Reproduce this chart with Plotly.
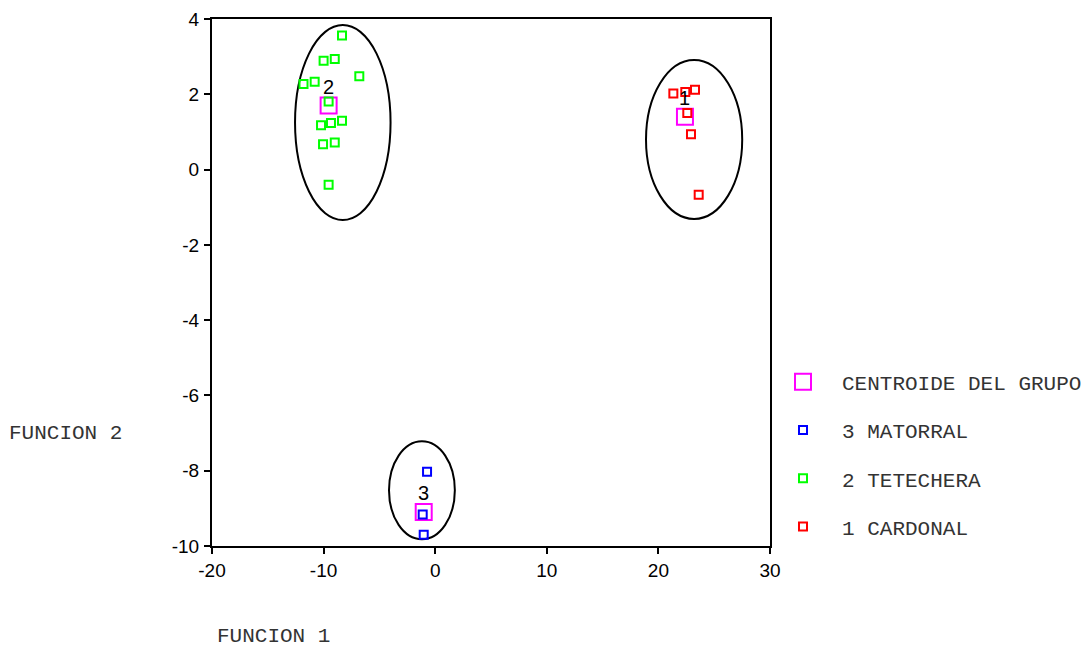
import plotly.graph_objects as go

# ---- data ----
cardonal_x = [21.34, 22.41, 23.28, 22.59, 22.92, 23.61]
cardonal_y = [2.02, 2.06, 2.12, 1.50, 0.94, -0.67]

tetechera_x = [-8.35, -10.0, -9.0, -6.8, -11.8, -10.8, -9.55, -10.23, -9.34, -8.35, -10.05, -9.0, -9.55]
tetechera_y = [3.56, 2.89, 2.94, 2.48, 2.27, 2.33, 1.81, 1.18, 1.24, 1.30, 0.67, 0.72, -0.40]

matorral_x = [-0.73, -1.12, -1.03]
matorral_y = [-8.03, -9.16, -9.70]

centroid_x = [22.38, -9.55, -1.03]
centroid_y = [1.40, 1.70, -9.10]
centroid_labels = ["1", "2", "3"]

# ellipse centres and semi-axes (data units)
ellipse_cx = [23.20, -8.28, -1.19]
ellipse_cy = [0.80, 1.25, -8.52]
ellipse_ax = [4.31, 4.28, 2.95]
ellipse_ay = [2.11, 2.59, 1.30]

x_ticks = [-20, -10, 0, 10, 20, 30]
x_tick_text = ["-20", "-10", "0", "10", "20", "30"]
y_ticks = [4, 2, 0, -2, -4, -6, -8, -10]
y_tick_text = ["4", "2", "0", "-2", "-4", "-6", "-8", "-10"]

MONO = "Liberation Mono, Courier New, monospace"
SANS = "Liberation Sans, Arial, sans-serif"

fig = go.Figure()

fig.add_trace(go.Scatter(
    x=centroid_x, y=centroid_y, mode="markers", name="CENTROIDE DEL GRUPO",
    marker=dict(symbol="square-open", size=16, color="#ff00ff", line=dict(width=2)),
    legendrank=1, legendgroup="c"))
fig.add_trace(go.Scatter(
    x=matorral_x, y=matorral_y, mode="markers", name="3 MATORRAL",
    marker=dict(symbol="square-open", size=8, color="#0000ff", line=dict(width=2)),
    legendrank=2, legendgroup="m"))
fig.add_trace(go.Scatter(
    x=tetechera_x, y=tetechera_y, mode="markers", name="2 TETECHERA",
    marker=dict(symbol="square-open", size=8, color="#00ff00", line=dict(width=2)),
    legendrank=3, legendgroup="t"))
fig.add_trace(go.Scatter(
    x=cardonal_x, y=cardonal_y, mode="markers", name="1 CARDONAL",
    marker=dict(symbol="square-open", size=8, color="#ff0000", line=dict(width=2)),
    legendrank=4, legendgroup="k"))

for cx, cy, ax, ay in zip(ellipse_cx, ellipse_cy, ellipse_ax, ellipse_ay):
    fig.add_shape(type="circle", xref="x", yref="y",
                  x0=cx - ax, x1=cx + ax, y0=cy - ay, y1=cy + ay,
                  line=dict(color="black", width=2), layer="below")

for cx, cy, lab in zip(centroid_x, centroid_y, centroid_labels):
    fig.add_annotation(x=cx, y=cy, text=lab, showarrow=False, yshift=19,
                       font=dict(family=SANS, size=20, color="black"))

fig.add_annotation(xref="paper", yref="paper", x=-0.3666, y=0.188, xanchor="left",
                   text="FUNCION 2", showarrow=False,
                   font=dict(family=MONO, size=21, color="#333333"))
fig.add_annotation(xref="paper", yref="paper", x=0.0056, y=-0.1965, xanchor="left",
                   text="FUNCION 1", showarrow=False,
                   font=dict(family=MONO, size=21, color="#333333"))

axis_common = dict(showline=True, linecolor="black", linewidth=2, mirror=True,
                   showgrid=False, zeroline=False, ticks="outside", ticklen=6,
                   tickwidth=1.5, tickcolor="black", automargin=False,
                   tickfont=dict(family=SANS, size=19, color="black"))

fig.update_xaxes(range=[-20, 30], tickvals=x_ticks, ticktext=x_tick_text,
                 ticklabelstandoff=0, **axis_common)
fig.update_yaxes(range=[-10, 4], tickvals=y_ticks, ticktext=y_tick_text,
                 ticklabelstandoff=1, **axis_common)

fig.update_layout(
    width=1087, height=648,
    margin=dict(l=212, r=317, t=19, b=102, autoexpand=False),
    plot_bgcolor="white", paper_bgcolor="white",
    showlegend=True,
    legend=dict(x=0.9892, y=0.35, xanchor="left", yanchor="top",
                font=dict(family=MONO, size=21, color="#333333"),
                itemsizing="trace", itemwidth=68, tracegroupgap=18,
                bgcolor="rgba(0,0,0,0)"),
)

fig.write_html("out.html", config={"displayModeBar": False},
               post_script="document.body.style.margin='0';document.body.style.overflow='hidden';")
